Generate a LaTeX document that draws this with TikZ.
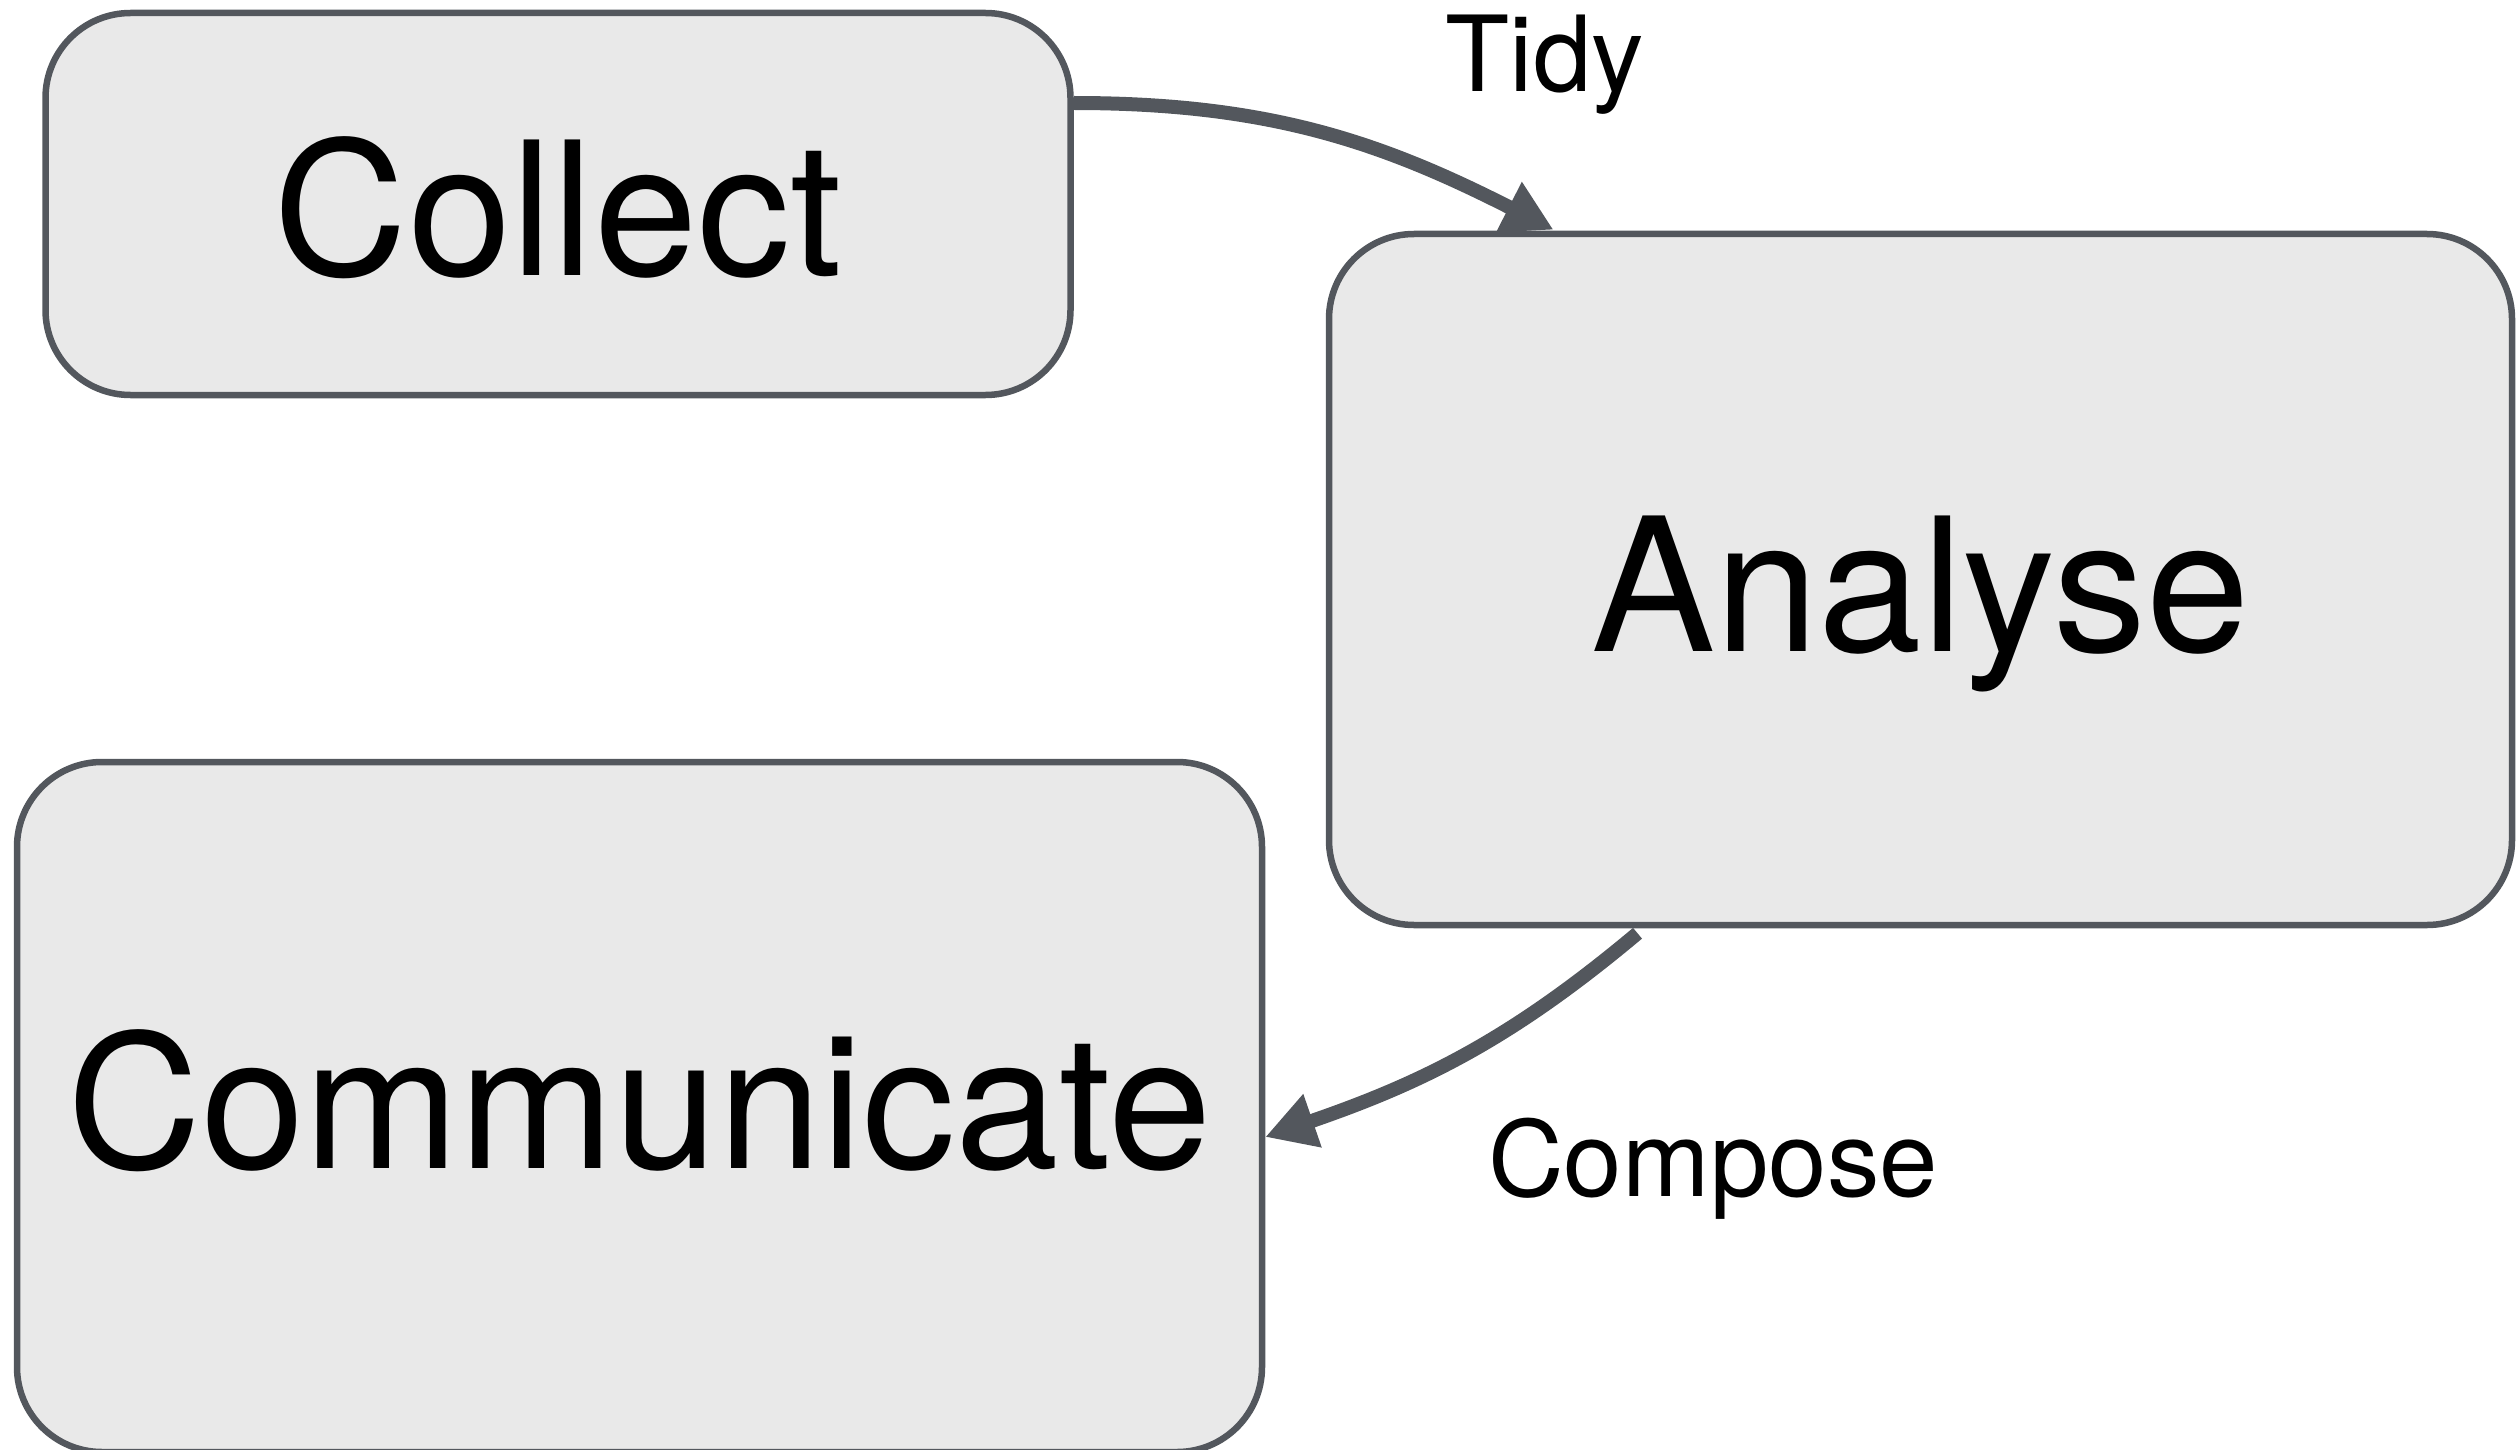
\documentclass[tikz,border=0pt]{standalone}
\usepackage{fontspec}
\setmainfont{TeX Gyre Heros}
\usetikzlibrary{arrows.meta}
\definecolor{edge}{HTML}{53575D}
\definecolor{boxfill}{HTML}{E9E9E9}
\tikzset{
  stage/.style={draw=edge, fill=boxfill, line width=6.5pt, rounded corners=85pt,
    inner sep=0pt, text height=136pt, text depth=0pt,
    font=\fontsize{186}{194}\selectfont},
  flow/.style={draw=edge, line width=14pt, -{Triangle[length=50pt,width=53pt]}},
  flowlabel/.style={anchor=base, inner sep=0pt, font=\fontsize{105}{110}\selectfont}
}
\begin{document}
\begin{tikzpicture}[x=1pt,y=-1pt]
\useasboundingbox (0,0) rectangle (2517,1450);
\node[stage, text height=142pt, minimum width=1025pt, minimum height=382pt] (collect) at (558,204) {Collect};
\node[stage, text height=143pt, minimum width=1183pt, minimum height=691pt] (analyse) at (1920.5,579.5) {Analyse};
\node[stage, text depth=14pt, minimum width=1245pt, minimum height=690pt] (communicate) at (639.5,1107) {Communicate};
\node[flowlabel] (tidy) at (1545,92) {Tidy};
\node[flowlabel] (compose) at (1713,1196) {Compose};
\draw[flow] ([yshift=101pt]collect.east) to[out=0,in=153] ([xshift=-367pt,yshift=1pt]analyse.north);
\draw[flow] ([xshift=-283pt,yshift=-5pt]analyse.south) to[out=220,in=19] ([yshift=-30pt]communicate.east);
\end{tikzpicture}
\end{document}
